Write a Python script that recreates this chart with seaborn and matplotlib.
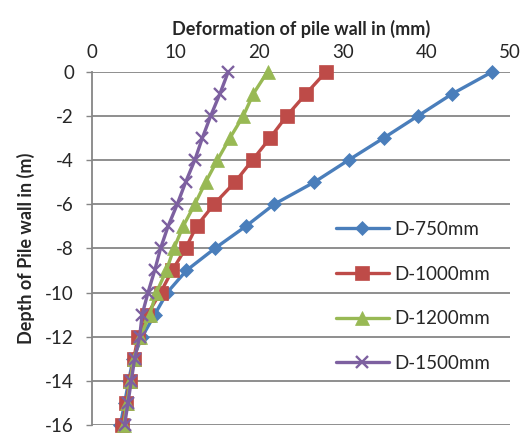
import matplotlib
matplotlib.use("Agg")
import matplotlib.pyplot as plt
import seaborn as sns
import pandas as pd

depth = [0, -1, -2, -3, -4, -5, -6, -7, -8, -9, -10, -11, -12, -13, -14, -15, -16]
d750 = [47.9, 43.1, 39.0, 34.9, 30.7, 26.6, 21.8, 18.4, 14.7, 11.3, 9.0, 7.5, 6.0, 4.9, 4.4, 3.9, 3.4]
d1000 = [28.0, 25.6, 23.3, 21.3, 19.2, 17.1, 14.6, 12.5, 11.2, 9.6, 8.2, 6.6, 5.5, 5.0, 4.5, 4.1, 3.6]
d1200 = [21.0, 19.3, 18.1, 16.5, 15.0, 13.6, 12.3, 10.9, 9.8, 8.9, 7.7, 6.9, 5.8, 5.0, 4.6, 4.2, 3.8]
d1500 = [16.3, 15.3, 14.2, 13.2, 12.3, 11.2, 10.2, 9.1, 8.2, 7.5, 6.7, 6.0, 5.7, 5.1, 4.7, 4.3, 3.9]
labels = ["D-750mm", "D-1000mm", "D-1200mm", "D-1500mm"]
xticks = [0, 10, 20, 30, 40, 50]
yticks = [0, -2, -4, -6, -8, -10, -12, -14, -16]

colors = ["#4A7EBB", "#BE4B48", "#98B954", "#7D60A0"]
markers = ["D", "s", "^", "x"]
msizes = [7.5, 9.5, 9.5, 8.5]

sns.set_style("white")
plt.rcParams['font.family'] = ['Lato', 'DejaVu Sans']
plt.rcParams['axes.unicode_minus'] = False

fig = plt.figure(figsize=(5.25, 4.34), dpi=100)
ax = fig.add_axes([92/525, 1-425/434, (510-92)/525, (425-71.7)/434])

for vals, lab, c, m, ms in zip([d750, d1000, d1200, d1500], labels, colors, markers, msizes):
    df = pd.DataFrame({"x": vals, "y": depth})
    sns.lineplot(data=df, x="x", y="y", sort=False, estimator=None, ax=ax,
                 color=c, marker=m, markersize=ms, linewidth=2.4, label=lab, clip_on=False,
                 markeredgecolor=c, markeredgewidth=1.7 if m == "x" else 0.5)

ax.set_xlim(0, 50)
ax.set_ylim(-16, 0)
ax.set_xticks(xticks)
ax.set_yticks(yticks)
ax.xaxis.tick_top()
ax.xaxis.set_label_position("top")
fs = 13.5
ax.set_xlabel("Deformation of pile wall in (mm)", fontsize=13, fontweight="bold", labelpad=6)
ax.set_ylabel("Depth of Pile wall in (m)", fontsize=13, fontweight="bold", labelpad=7)
ax.tick_params(axis="x", length=0, labelsize=fs, pad=8)
ax.tick_params(axis="y", length=4, width=1, color="#868686", direction="out", labelsize=fs, pad=9, left=True)
for s in ["top", "right", "bottom"]:
    ax.spines[s].set_visible(False)
ax.spines["left"].set_color("#868686")
ax.spines["left"].set_linewidth(1.3)
ax.grid(axis="y", color="#868686", linewidth=1.3)
ax.grid(axis="x", visible=False)
ax.set_axisbelow(True)

ax.legend(loc="center left", bbox_to_anchor=(0.584, 0.364), frameon=False, borderpad=0,
          borderaxespad=0, handlelength=2.8, handletextpad=0.3, labelspacing=1.48, fontsize=fs)

fig.savefig("out.png", dpi=100)
